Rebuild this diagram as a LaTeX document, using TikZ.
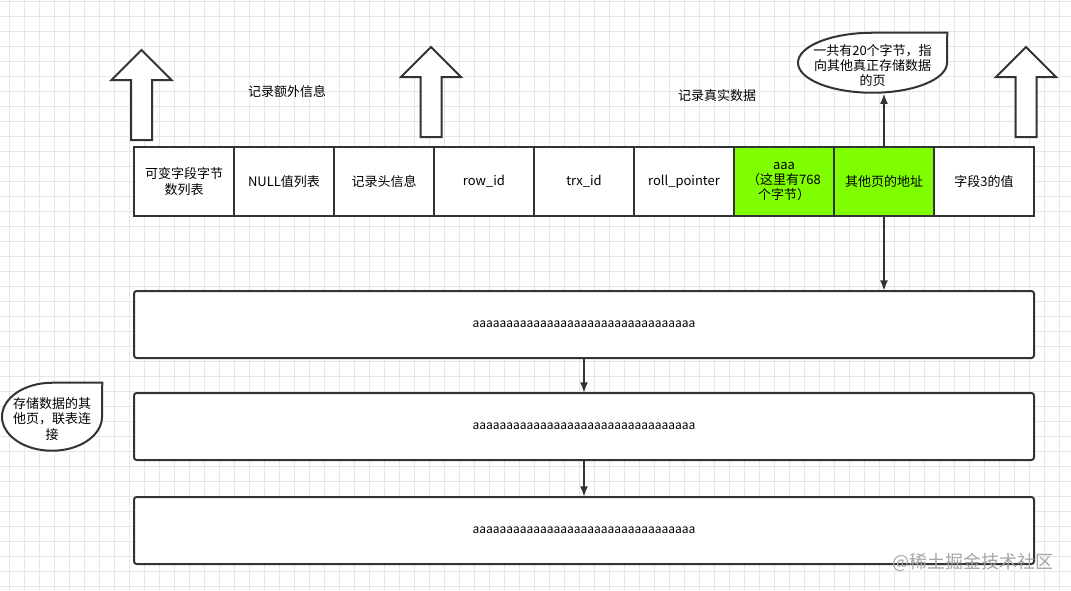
\documentclass[tikz,border=0pt]{standalone}
\usepackage{fontspec}
\setmainfont{Noto Sans CJK SC}
\usepackage{xcolor}
\usepackage{tikz}
\usetikzlibrary{arrows.meta, positioning}

\definecolor{edgegray}{HTML}{333333}
\definecolor{fieldgreen}{HTML}{80FF00}
\definecolor{gridgray}{HTML}{E6E6E6}

\begin{document}
\begin{tikzpicture}[x=0.75pt, y=0.75pt, node distance=0pt, font=\fontsize{9.75pt}{11.6pt}\selectfont]
        \tikzstyle{cell} = [rectangle, draw=edgegray, line width=1.5pt, fill=white, outer sep=0pt, minimum width=75pt, minimum height=51.75pt, inner sep=1pt, align=center]
        \tikzstyle{hot} = [cell, fill=fieldgreen]
        \tikzstyle{page} = [rectangle, draw=edgegray, line width=1.5pt, fill=white, outer sep=0pt, rounded corners=2pt, minimum width=675pt, minimum height=50.25pt, font=\fontsize{9pt}{11pt}\selectfont]
        \tikzstyle{note} = [rectangle, inner sep=0pt, align=center]
        \tikzstyle{note line} = [draw=edgegray, line width=1.5pt, fill=white]
        \tikzstyle{line} = [draw=edgegray, line width=1.5pt, -{Latex[length=8pt, width=6pt]}]
        \tikzset{bigarrow/.pic={\draw[edgegray, line width=1.5pt, fill=white] (-10.5,0) -- (-10.5,60) -- (-30,60) -- (0,90) -- (30,60) -- (10.5,60) -- (10.5,0) -- cycle;}}

        % background
        \useasboundingbox (0,0) rectangle (1071,-590);
        \fill[white] (0,0) rectangle (1071,-590);
        \begin{scope}[shift={(9.5,-1.7)}]
            \draw[gridgray, line width=0.75pt, step=11.25pt] (-9.5,1.7) grid (1061,-589);
        \end{scope}

        % big arrows
        \pic at (141.5,-140) {bigarrow};
        \pic at (431,-137) {bigarrow};
        \pic at (1026,-137) {bigarrow};

        \node (extra) at (287,-92) {记录额外信息};
        \node (real) at (717,-96) {记录真实数据};

        % the record
        \node [cell] (c1) at (184,-181.5) {可变字段字节\\数列表};
        \node [cell, right=of c1] (c2) {NULL值列表};
        \node [cell, right=of c2] (c3) {记录头信息};
        \node [cell, right=of c3] (c4) {row\_id};
        \node [cell, right=of c4] (c5) {trx\_id};
        \node [cell, right=of c5] (c6) {roll\_pointer};
        \node [hot, right=of c6] (c7) {aaa\\（这里有768\\个字节）};
        \node [hot, right=of c7] (c8) {其他页的地址};
        \node [cell, right=of c8] (c9) {字段3的值};

        % overflow pages
        \node [page, below=56.25pt of c5] (p1) {aaaaaaaaaaaaaaaaaaaaaaaaaaaaaaaaa};
        \node [page, below=26.25pt of p1] (p2) {aaaaaaaaaaaaaaaaaaaaaaaaaaaaaaaaa};
        \node [page, below=27.75pt of p2] (p3) {aaaaaaaaaaaaaaaaaaaaaaaaaaaaaaaaa};

        % callouts
        \node [note, minimum width=111.75pt, minimum height=45pt] (topnote) at (872.5,-63) {};
        \path [note line] (topnote.north east) -- (topnote.north) arc[start angle=90, end angle=360, x radius=74.5, y radius=30] -- cycle;
        \node [align=center] at ([yshift=-1.9pt]topnote.center) {一共有20个字节，指\\向其他真正存储数据\\的页};
        \node [note, minimum width=75pt, minimum height=51pt] (leftnote) at (52,-417) {};
        \path [note line] (leftnote.north east) -- (leftnote.north) arc[start angle=90, end angle=360, x radius=50, y radius=34] -- cycle;
        \node [align=center] at ([yshift=-1.5pt]leftnote.center) {存储数据的其\\他页，联表连\\接};

        % links
        \path [line] (c8.north) -- (c8.north |- topnote.south);
        \path [line] (c8.south) -- (c8.south |- p1.north);
        \path [line] (p1) -- (p2);
        \path [line] (p2) -- (p3);

        \node [text=gray!70, font=\fontsize{13.5pt}{15pt}\selectfont] (mark) at (973,-562) {@稀土掘金技术社区};
\end{tikzpicture}
\end{document}
